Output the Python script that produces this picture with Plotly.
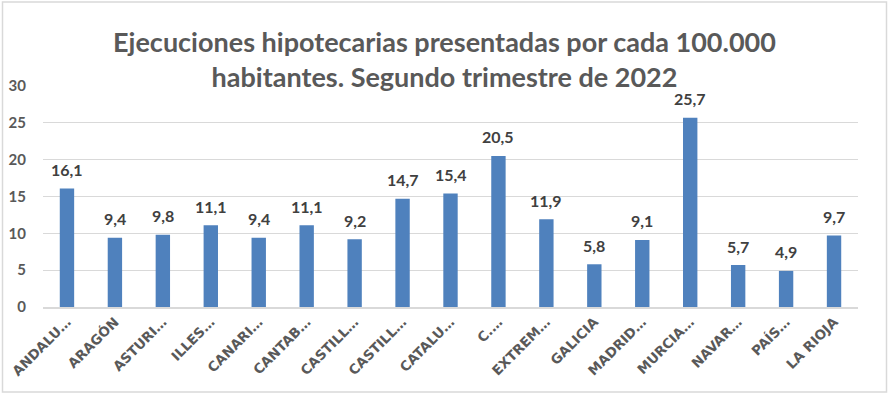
import plotly.graph_objects as go

categories = ["ANDALU…", "ARAGÓN", "ASTURI…", "ILLES…", "CANARI…", "CANTAB…",
              "CASTILL…", "CASTILL…", "CATALU…", "C.…", "EXTREM…", "GALICIA",
              "MADRID…", "MURCIA…", "NAVAR…", "PAÍS…", "LA RIOJA"]
values = [16.1, 9.4, 9.8, 11.1, 9.4, 11.1, 9.2, 14.7, 15.4, 20.5, 11.9, 5.8,
          9.1, 25.7, 5.7, 4.9, 9.7]
y_ticks = [0, 5, 10, 15, 20, 25, 30]
title_text = "Ejecuciones hipotecarias presentadas por cada 100.000<br>habitantes. Segundo trimestre de 2022"

W, H = 889, 395
ML, MR, MT, MB = 43, 31, 86, 88
pw, ph = W - ML - MR, H - MT - MB

xs = list(range(len(categories)))
labels = [f"{v:.1f}".replace(".", ",") for v in values]

fig = go.Figure()
fig.add_trace(go.Bar(x=xs, y=values, marker=dict(color="#4F81BD", line=dict(width=0)),
                     hoverinfo="skip"))

annotations = []
for x, v, t in zip(xs, values, labels):
    annotations.append(dict(x=x, y=v, text=t, showarrow=False, xref="x", yref="y",
                            yanchor="middle", yshift=19,
                            font=dict(family="Lato", size=16, color="#404040", weight="bold")))

fig.update_layout(
    width=W, height=H,
    margin=dict(l=ML, r=MR, t=MT, b=MB, autoexpand=False),
    paper_bgcolor="white", plot_bgcolor="white",
    showlegend=False,
    bargap=0.7,
    title=dict(text=title_text, x=0.5, xanchor="center", y=1 - 52 / H, yanchor="middle",
               font=dict(family="Lato", size=27, color="#595959", weight="bold")),
    annotations=annotations,
    xaxis=dict(range=[-0.5, len(categories) - 0.5], tickvals=xs, ticktext=categories,
               tickangle=-45, showgrid=False, zeroline=False, showline=True,
               linecolor="#d9d9d9", linewidth=1.5, ticks="", automargin=False,
               tickfont=dict(family="DejaVu Sans", size=13.5, color="#595959", weight="bold")),
    yaxis=dict(range=[0, 30], tickvals=y_ticks, showgrid=True, gridcolor="#d9d9d9",
               gridwidth=1.3, zeroline=False, showline=False, ticks="", automargin=False,
               ticklabelstandoff=16,
               tickfont=dict(family="Lato", size=15, color="#595959", weight="bold")),
    shapes=[dict(type="rect", xref="paper", yref="paper",
                 x0=(2.5 - ML) / pw, x1=(886.5 - ML) / pw,
                 y0=-(392 - (H - MB)) / ph, y1=(H - MB - 2) / ph,
                 line=dict(color="#d9d9d9", width=1.5), fillcolor="rgba(0,0,0,0)",
                 layer="below")],
)

fig.write_html("out.html", config={"displayModeBar": False},
               post_script="document.body.style.margin='0';document.body.style.overflow='hidden';")
